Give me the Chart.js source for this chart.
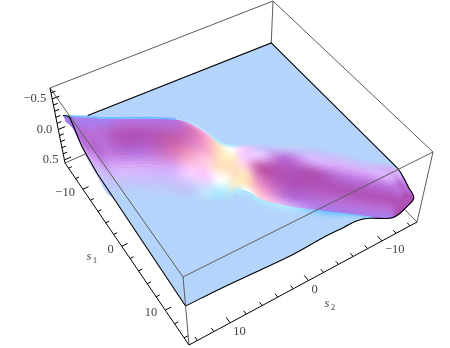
<!DOCTYPE html>
<html>
<head>
<meta charset="utf-8">
<script src="https://cdn.jsdelivr.net/npm/chart.js@4/dist/chart.umd.js"></script>
<style>
  html, body { margin: 0; background: #fff; }
</style>
</head>
<body>
<canvas id="surface" width="450" height="348"></canvas>
<script>
// axis ticks
const s1Ticks = [-14, -12, -10, -8, -6, -4, -2, 0, 2, 4, 6, 8, 10, 12, 14];
const s2Ticks = [-14, -12, -10, -8, -6, -4, -2, 0, 2, 4, 6, 8, 10, 12, 14];
const zTicks = [-0.6, -0.5, -0.4, -0.3, -0.2, -0.1, 0, 0.1, 0.2, 0.3, 0.4, 0.5];
const s1Labels = [-10, 0, 10];
const s2Labels = [-10, 0, 10];
const zLabels = [-0.5, 0, 0.5];

// sheet outline in (s1, s2)
const edgeS1 = [-14.6, -15.0, 11.2, 12.1, 13.9, 15.6, 16.2, 16.6, 16.5, 15.4, 15.0, 15.0, 15.0, 15.2, 15.1, 15.0, 15.0, -5.4, -10.2, -14.4, -15.6, -16.1];
const edgeS2 = [11.3, -15.0, -14.3, -14.1, -13.5, -12.9, -11.4, -9.8, -8.8, -7.0, -5.7, -4.0, -1.4, 3.0, 7.0, 10.8, 15.0, 14.5, 14.1, 13.4, 13.3, 13.8];
const sheetZ = [-0.08, 0.046, -0.065, -0.155]; // corners A B C D

// ridge band: north and south limits along its length
const northS1 = [-16.0, -15.4, -14.4, -13.2, -12.0, -10.5, -8.7, -7.2, -5.0, -2.8, -1.5, -0.9, -0.1, 1.4, 3.1, 5.7, 8.5, 10.5, 12.1, 13.9, 15.6];
const northS2 = [13.7, 12.9, 11.4, 9.8, 7.8, 5.3, 2.7, 1.5, 0.8, 0.4, -0.4, -1.7, -3.6, -5.7, -8.0, -10.3, -12.5, -13.8, -14.1, -13.5, -12.9];
const southS1 = [-14.9, -13.2, -9.6, -5.3, -1.4, 0.1, 2.0, 3.6, 4.8, 5.5, 5.0, 5.6, 7.5, 9.8, 12.1, 13.8, 15.4, 16.5, 16.6, 16.2, 15.6];
const southS2 = [13.9, 13.7, 14.2, 14.6, 14.7, 12.3, 9.9, 8.1, 6.6, 4.9, 2.7, 1.8, 1.1, -0.9, -3.5, -5.5, -7.3, -8.8, -9.8, -11.4, -12.9];
const glowS1 = [6.0, 6.6, 8.3, 10.7, 12.9, 14.3, 15.5];
const glowS2 = [3.3, 2.4, 2.0, -0.2, -2.9, -5.2, -7.2];

// shade class per band column, north to south
const shades = [
  'ddddddd', 'ddddddd', 'dddeeec', 'ddeeecb', 'defecba', 'defecba', 'eeghcba',
  'qhhipba', 'piijpra', 'nkkkmna', 'nmlkkln', 'appjkkm', 'abqghij', 'abeffec',
  'abcffed', 'abcefed', 'abcefed', 'bccefed', 'cceefff', 'eeeffff', 'fffffff'
];
const glowInner = 'nnnnooo';
const rowStops = [0, 0.08, 0.25, 0.45, 0.65, 0.85, 1];

const palette = {
  a: [181, 212, 251], b: [195, 198, 250], c: [215, 172, 250], d: [170, 125, 235],
  e: [185, 110, 215], f: [178, 85, 185], g: [195, 95, 175], h: [215, 120, 190],
  i: [245, 165, 205], j: [255, 205, 225], k: [255, 225, 195], l: [255, 240, 205],
  m: [255, 255, 255], n: [175, 235, 255], o: [110, 195, 255], p: [245, 205, 255],
  q: [230, 190, 250], r: [195, 228, 255]
};

// box calibration in pixels: A(-15,15) B(-15,-15) C(15,-15) D(15,15)
const boxTop = { A: [50, 88], B: [273, 1], C: [433, 152], D: [183, 277] };
const boxBottom = { A: [65, 163], B: [270, 72], C: [417, 222], D: [189, 345] };
const zTop = -0.68, zBottom = 0.55;
const boxGrey = '#5c5c5c';

function quadMap(q) {
  const [[x0, y0], [x1, y1], [x2, y2], [x3, y3]] = q;
  const dx1 = x1 - x2, dx2 = x3 - x2, sx = x0 - x1 + x2 - x3;
  const dy1 = y1 - y2, dy2 = y3 - y2, sy = y0 - y1 + y2 - y3;
  const den = dx1 * dy2 - dx2 * dy1;
  const g = (sx * dy2 - dx2 * sy) / den, h = (dx1 * sy - sx * dy1) / den;
  return (s1, s2) => {
    const u = (s1 + 15) / 30, v = (s2 + 15) / 30, w = g * u + h * v + 1;
    return [
      ((x1 - x0 + g * x1) * u + (x3 - x0 + h * x3) * v + x0) / w,
      ((y1 - y0 + g * y1) * u + (y3 - y0 + h * y3) * v + y0) / w
    ];
  };
}

const topMap = quadMap([boxTop.B, boxTop.C, boxTop.D, boxTop.A]);
const bottomMap = quadMap([boxBottom.B, boxBottom.C, boxBottom.D, boxBottom.A]);

function boxPoint(s1, s2, z) {
  const t = (z - zTop) / (zBottom - zTop);
  const a = topMap(s1, s2), b = bottomMap(s1, s2);
  return { x: a[0] + (b[0] - a[0]) * t, y: a[1] + (b[1] - a[1]) * t };
}

const toXY = p => [p.x, p.y];
const sheetMap = quadMap([
  toXY(boxPoint(-15, -15, sheetZ[1])), toXY(boxPoint(15, -15, sheetZ[2])),
  toXY(boxPoint(15, 15, sheetZ[3])), toXY(boxPoint(-15, 15, sheetZ[0]))
]);
function sheetPoint(s1, s2) {
  const p = sheetMap(s1, s2);
  return { x: p[0], y: p[1] };
}

function line(points, color, width, tension) {
  return { data: points, showLine: true, borderColor: color, borderWidth: width, pointRadius: 0, fill: false, tension: tension || 0 };
}
function patch(points, color, edge) {
  return {
    data: points.concat(points[0]), showLine: true, fill: 'shape', backgroundColor: color,
    borderColor: color, borderWidth: edge, pointRadius: 0
  };
}

const css = c => `rgb(${c.map(v => Math.max(0, Math.min(255, Math.round(v)))).join(',')})`;

// smooth reading between the values of one list
function spline(get, n, t) {
  const i = Math.max(0, Math.min(n - 2, Math.floor(t))), f = t - i;
  const p = k => get(Math.max(0, Math.min(n - 1, k)));
  const a = p(i - 1), b = p(i), c = p(i + 1), d = p(i + 2);
  return b + 0.5 * f * (c - a + f * (2 * a - 5 * b + 4 * c - d + f * (3 * (b - c) + d - a)));
}

function shadeAt(col, row) {
  const nc = shades.length, nr = rowStops.length;
  return [0, 1, 2].map(k => spline(
    j => spline(i => palette[shades[i][j]][k], nc, col),
    nr, row
  ));
}

function bandPos(col, row) {
  const r = Math.min(rowStops.length - 2, Math.floor(row));
  const f = rowStops[r] + (rowStops[r + 1] - rowStops[r]) * (row - r);
  const n = shades.length;
  const ns1 = spline(i => northS1[i], n, col), ns2 = spline(i => northS2[i], n, col);
  const ss1 = spline(i => southS1[i], n, col), ss2 = spline(i => southS2[i], n, col);
  return sheetPoint(ns1 + (ss1 - ns1) * f, ns2 + (ss2 - ns2) * f);
}

function buildDatasets() {
  const list = [];
  const flat = css(palette.a);
  const zt = zTop, zb = zBottom;

  // hidden box edges first, the sheet covers them
  list.push(line([boxPoint(-15, 15, zb), boxPoint(-15, -15, zb)], boxGrey, 1));
  list.push(line([boxPoint(15, -15, zb), boxPoint(-15, -15, zb)], boxGrey, 1));
  list.push(line([boxPoint(-15, -15, zt), boxPoint(-15, -15, zb)], boxGrey, 1));

  const outline = edgeS1.map((s, i) => sheetPoint(s, edgeS2[i]));
  list.push(patch(outline, flat, 0));

  // ridge band
  const stepsU = 8;
  for (let i = 0; i < (shades.length - 1) * stepsU; i++) {
    const c0 = i / stepsU, c1 = (i + 1) / stepsU, cm = (c0 + c1) / 2;
    for (let j = 0; j < rowStops.length - 1; j++) {
      const nv = Math.max(2, Math.ceil((rowStops[j + 1] - rowStops[j]) * 25));
      for (let b = 0; b < nv; b++) {
        const r0 = j + b / nv, r1 = j + (b + 1) / nv;
        list.push(patch(
          [bandPos(c0, r0), bandPos(c1, r0), bandPos(c1, r1), bandPos(c0, r1)],
          css(shadeAt(cm, (r0 + r1) / 2)), 0.9
        ));
      }
    }
  }

  // soft cyan glow under the right lobe
  const ng = glowS1.length;
  const glowAt = (t, f) => {
    const is1 = spline(i => southS1[i], shades.length, t + 10), is2 = spline(i => southS2[i], shades.length, t + 10);
    const os1 = spline(i => glowS1[i], ng, t), os2 = spline(i => glowS2[i], ng, t);
    return sheetPoint(is1 + (os1 - is1) * f, is2 + (os2 - is2) * f);
  };
  for (let i = 0; i < (ng - 1) * stepsU; i++) {
    const t0 = i / stepsU, t1 = (i + 1) / stepsU, tm = (t0 + t1) / 2;
    const inner = [0, 1, 2].map(k => spline(g => palette[glowInner[g]][k], ng, tm));
    for (let b = 0; b < 4; b++) {
      const f0 = b / 4, f1 = (b + 1) / 4, fm = (f0 + f1) / 2;
      const tone = inner.map((v, k) => v + (palette.a[k] - v) * fm);
      list.push(patch([glowAt(t0, f0), glowAt(t1, f0), glowAt(t1, f1), glowAt(t0, f1)], css(tone), 0.9));
    }
  }

  // bright rim along the left lobe
  const rim = n => northS1.slice(0, n).map((s, i) => sheetPoint(s, northS2[i]));
  list.push(line(rim(10), '#b4e6ff', 1.4, 0.3));
  list.push(line(rim(7), '#6cbcff', 1.6, 0.3));

  // sheet outline: straight at the back, curved along the humps
  list.push(line(outline.slice(0, 3), '#000', 1.1));
  list.push(line(outline.slice(2, 17), '#000', 1.1, 0.35));
  list.push(line(outline.slice(16, 18), '#000', 1.1));
  list.push(line(outline.slice(17), '#000', 1.1, 0.3));

  // top of the box and the edges drawn over the surface
  list.push(line([boxPoint(-15, 15, zt), boxPoint(-15, -15, zt), boxPoint(15, -15, zt), boxPoint(15, 15, zt), boxPoint(-15, 15, zt)], boxGrey, 1));
  list.push(line([boxPoint(15, -15, zt), boxPoint(15, -15, zb)], boxGrey, 1));
  list.push(line([boxPoint(15, 15, zt), boxPoint(15, 15, zb)], boxGrey, 1));

  // axes
  list.push(line([boxPoint(-15, 15, zt), boxPoint(-15, 15, zb)], '#000', 1));
  list.push(line([boxPoint(-15, 15, zb), boxPoint(15, 15, zb)], '#000', 1));
  list.push(line([boxPoint(15, 15, zb), boxPoint(15, -15, zb)], '#000', 1));
  s1Ticks.forEach(t => {
    const len = s1Labels.includes(t) ? 0.75 : 0.45;
    list.push(line([boxPoint(t, 15, zb), boxPoint(t, 15 - len, zb)], '#000', 1));
  });
  s2Ticks.forEach(t => {
    const len = s2Labels.includes(t) ? 0.8 : 0.5;
    list.push(line([boxPoint(15, t, zb), boxPoint(15 - len, t, zb)], '#000', 1));
  });
  zTicks.forEach(t => {
    const len = zLabels.includes(t) ? 0.9 : 0.55;
    list.push(line([boxPoint(-15, 15, t), boxPoint(-15, 15 - len, t)], '#000', 1));
  });
  return list;
}

const axisText = {
  id: 'axisText',
  afterDatasetsDraw(chart) {
    const { ctx, scales: { x, y } } = chart;
    const put = (txt, px, py, align, font) => {
      ctx.font = font;
      ctx.textAlign = align;
      ctx.textBaseline = 'middle';
      ctx.fillText(txt, px, py);
    };
    const num = v => String(v).replace('-', '\u2212');
    const roman = "12.5px 'Liberation Serif'";
    ctx.save();
    ctx.fillStyle = '#444';
    s1Labels.forEach(t => {
      const p = boxPoint(t, 15, zBottom);
      put(num(t), x.getPixelForValue(p.x) - 8, y.getPixelForValue(p.y) + 3, 'right', roman);
    });
    s2Labels.forEach(t => {
      const p = boxPoint(15, t, zBottom);
      put(num(t), x.getPixelForValue(p.x) + 3, y.getPixelForValue(p.y) + 9, 'left', roman);
    });
    zLabels.forEach(t => {
      const p = boxPoint(-15, 15, t);
      put(num(t.toFixed(1)), x.getPixelForValue(p.x) - 6, y.getPixelForValue(p.y), 'right', roman);
    });
    put('s', x.getPixelForValue(89), y.getPixelForValue(257), 'center', "italic 12.5px 'Liberation Serif'");
    put('1', x.getPixelForValue(95), y.getPixelForValue(261), 'center', "9px 'Liberation Serif'");
    put('s', x.getPixelForValue(327), y.getPixelForValue(304), 'center', "italic 12.5px 'Liberation Serif'");
    put('2', x.getPixelForValue(333), y.getPixelForValue(308), 'center', "9px 'Liberation Serif'");
    ctx.restore();
  }
};

new Chart(document.getElementById('surface'), {
  type: 'scatter',
  data: { datasets: buildDatasets().reverse() },
  options: {
    responsive: false,
    animation: false,
    events: [],
    layout: { padding: 0 },
    plugins: { legend: { display: false }, tooltip: { enabled: false } },
    scales: {
      x: { type: 'linear', min: 0, max: 450, display: false },
      y: { type: 'linear', min: 0, max: 348, reverse: true, display: false }
    }
  },
  plugins: [axisText]
});
</script>
</body>
</html>
